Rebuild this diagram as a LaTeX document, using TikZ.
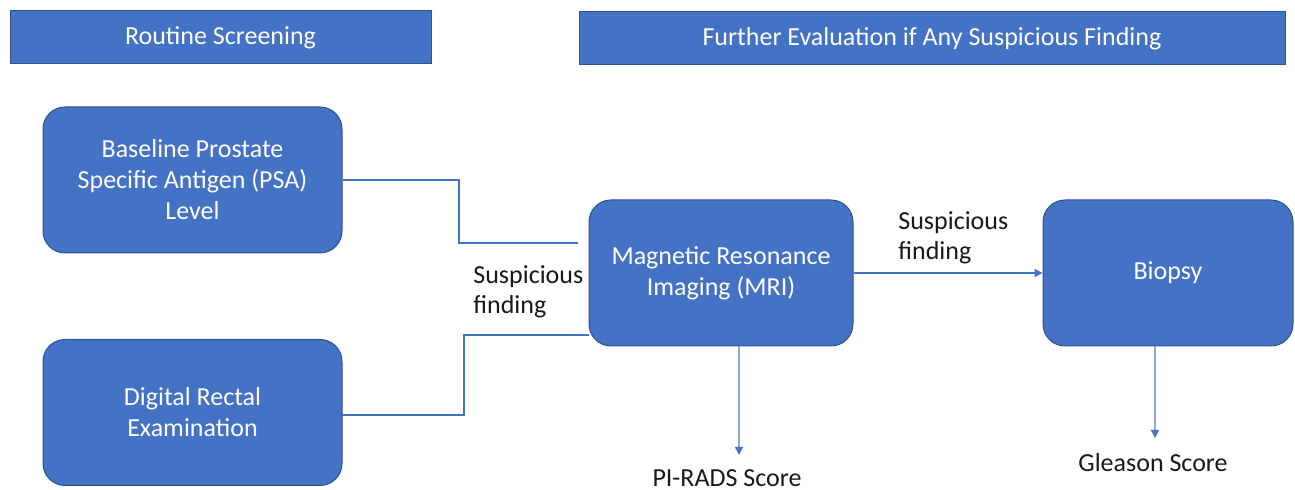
\documentclass[tikz,border=0pt]{standalone}
\usepackage{fontspec}
\setmainfont{Carlito}
\usetikzlibrary{arrows.meta}
\definecolor{boxblue}{HTML}{4472C4}
\definecolor{boxedge}{HTML}{2F528F}
\definecolor{linkblue}{HTML}{4472C4}
\definecolor{dropcol}{HTML}{8FAADC}
\begin{document}
\begin{tikzpicture}[x=0.5pt,y=-0.5pt,
  header/.style={draw=boxedge,line width=0.5pt,fill=boxblue,text=white,
    minimum height=26.5pt,inner sep=0pt,font=\fontsize{13}{15}\selectfont},
  stage/.style={draw=boxedge,line width=0.5pt,fill=boxblue,text=white,
    rounded corners=11pt,minimum height=73pt,inner sep=2pt,align=center,
    font=\fontsize{13}{15.5}\selectfont},
  link/.style={draw=linkblue,line width=0.75pt},
  droplink/.style={draw=dropcol,line width=0.75pt,
    -{Triangle[length=4pt,width=4pt,color=linkblue]}},
  note/.style={text=black!90,inner sep=0pt,align=left,
    font=\fontsize{13}{15}\selectfont},
  outcome/.style={text=black!90,inner sep=0pt,font=\fontsize{13}{15}\selectfont}]
\useasboundingbox (0,0) rectangle (1295,490);

% column headers
\node[header,minimum width=210.5pt] (hscreen) at (220.5,37.5) {Routine Screening};
\node[header,minimum width=353pt] (heval) at (932,38.5) {Further Evaluation if Any Suspicious Finding};

% stages
\node[stage,minimum width=149.5pt] (psa) at (192.5,180) {Baseline Prostate\\Specific Antigen (PSA)\\Level};
\node[stage,minimum width=149.5pt] (dre) at (192.5,412.5) {Digital Rectal\\Examination};
\node[stage,minimum width=132pt] (mri) at (721,273) {Magnetic Resonance\\Imaging (MRI)};
\node[stage,minimum width=125pt] (bio) at (1168,273) {Biopsy};

% outcome labels
\node[outcome] (pirads) at (727,478) {PI-RADS Score};
\node[outcome] (gleason) at (1153,463) {Gleason Score};

% link labels
\node[note,anchor=west] (susp1) at (473,292) {Suspicious\\finding};
\node[note,anchor=west] (susp2) at (898,238) {Suspicious\\finding};

% routing points
\coordinate (bendA) at (459,0);
\coordinate (psaend) at (578,243);
\coordinate (bendB) at (464,0);
\coordinate (dreout) at (342,415);
\coordinate (mriin) at (589,335);
\coordinate (mridrop) at (739,346);
\coordinate (piradstip) at (739,455);
\coordinate (biodrop) at (1155,346);
\coordinate (gleasontip) at (1155,438);

% connectors
\draw[link] (psa.east) -- (psa.east -| bendA) |- (psaend);
\draw[link] (dreout) -- (dreout -| bendB) |- (mriin);
\draw[link,-{Triangle[length=4pt,width=4pt]}] (mri.east) -- (bio.west);
\draw[droplink] (mridrop) -- (piradstip);
\draw[droplink] (biodrop) -- (gleasontip);
\end{tikzpicture}
\end{document}
